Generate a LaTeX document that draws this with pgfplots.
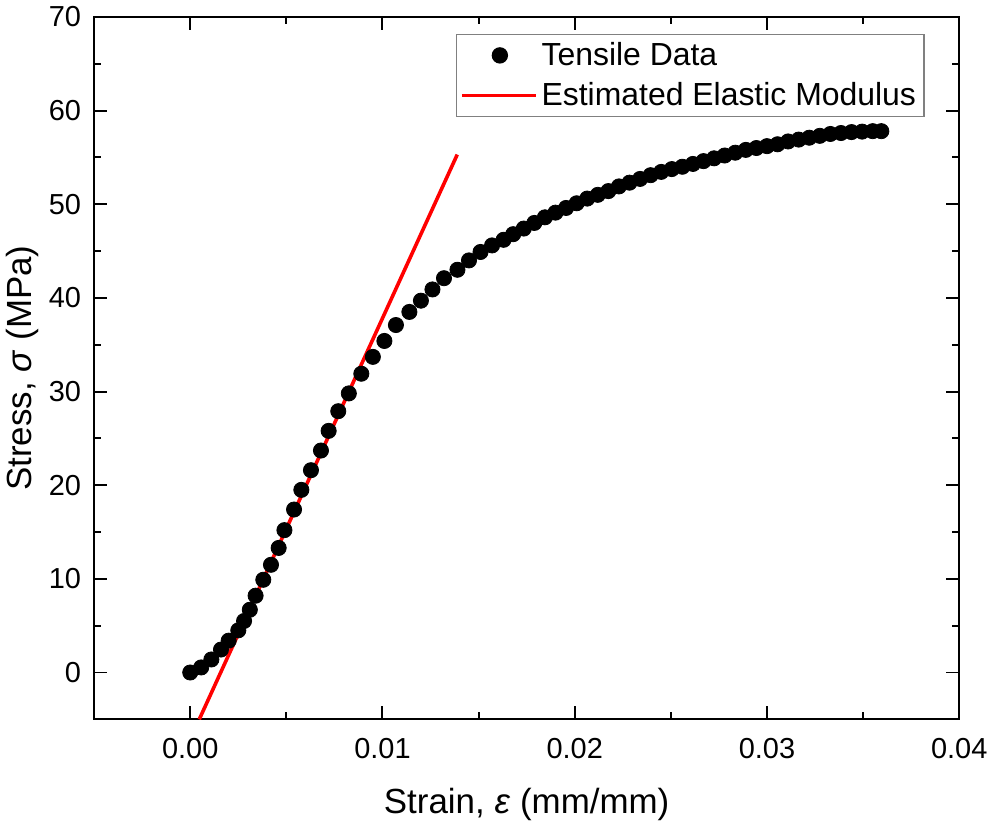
\documentclass[border=0pt]{standalone}
\usepackage{fontspec}
\setmainfont{Liberation Sans}
\usepackage{pgfplots}
\pgfplotsset{compat=1.18}
\usepackage{pgfplotstable}

\pgfplotstableread{
strain stress
0.00000 0.0
0.00057 0.54
0.00110 1.39
0.00160 2.45
0.00200 3.4
0.00250 4.5
0.00280 5.5
0.00310 6.7
0.00340 8.2
0.00380 9.9
0.00420 11.5
0.00460 13.3
0.00490 15.2
0.00540 17.4
0.00578 19.5
0.00628 21.6
0.00680 23.7
0.00720 25.8
0.00770 27.9
0.00825 29.8
0.00890 31.9
0.00950 33.7
0.01010 35.4
0.01070 37.1
0.01140 38.5
0.01200 39.7
0.01260 40.9
0.01320 42.1
0.01390 43.0
0.01450 44.0
0.01510 44.9
0.01570 45.6
0.01630 46.2
0.01680 46.8
0.01735 47.4
0.01790 48.0
0.01845 48.6
0.01900 49.1
0.01955 49.6
0.02010 50.1
0.02065 50.6
0.02120 51.0
0.02175 51.4
0.02230 51.9
0.02285 52.3
0.02340 52.7
0.02395 53.1
0.02450 53.45
0.02505 53.75
0.02560 54.0
0.02615 54.3
0.02670 54.6
0.02725 54.9
0.02780 55.2
0.02835 55.5
0.02890 55.8
0.02945 56.0
0.03000 56.2
0.03055 56.4
0.03110 56.7
0.03165 56.9
0.03220 57.1
0.03275 57.3
0.03330 57.5
0.03385 57.6
0.03440 57.7
0.03495 57.75
0.03550 57.8
0.03595 57.8
}\tensile

\begin{document}
\begin{tikzpicture}
\begin{axis}[
    scale only axis,
    width=433.5pt, height=352pt,
    xmin=-0.005, xmax=0.04,
    ymin=-5, ymax=70,
    xtick={0,0.01,0.02,0.03,0.04},
    minor xtick={-0.005,0.005,0.015,0.025,0.035},
    ytick={0,10,...,70},
    minor ytick={-5,5,...,65},
    tick align=inside,
    major tick length=6.5pt,
    minor tick length=3.5pt,
    axis line style={line width=1pt},
    every tick/.style={black, line width=1pt},
    scaled x ticks=false,
    /pgf/number format/assume math mode=true,
    ticklabel style={font=\fontsize{14.5}{17}\selectfont},
    xticklabel style={yshift=-6pt, /pgf/number format/.cd, fixed, fixed zerofill, precision=2},
    yticklabel style={xshift=-3pt},
    label style={font=\fontsize{17.5}{20}\selectfont},
    xlabel={Strain, \textit{ε} (mm/mm)},
    ylabel={Stress, \textit{σ} (MPa)},
    xlabel style={yshift=-8pt},
    ylabel style={yshift=-2pt},
    legend style={at={(0.96,0.976)}, anchor=north east, draw=gray, line width=0.6pt,
        font=\fontsize{16}{19}\selectfont, inner sep=2pt, row sep=3pt,
        cells={anchor=west}},
    legend image code/.code={\draw[#1] (0pt,0pt) -- (37pt,0pt);},
]
\addplot[only marks, mark=*, mark size=3.8pt, black,
    legend image code/.code={\draw[##1] plot coordinates {(19pt,0pt)};}]
    table[x=strain, y=stress] {\tensile};
\addlegendentry{Tensile Data}
\addplot[red, line width=1.8pt] coordinates {(0.00047,-5) (0.01389,55.3)};
\addlegendentry{Estimated Elastic Modulus}
\end{axis}
\end{tikzpicture}
\end{document}
